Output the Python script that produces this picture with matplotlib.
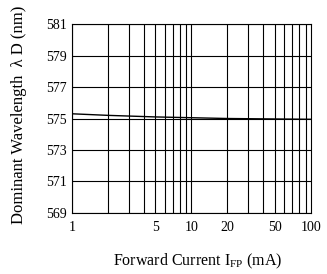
import numpy as np
import matplotlib.pyplot as plt

current_ma = [1, 2, 5, 10, 20, 50, 100]
wavelength_nm = [575.3, 575.2, 575.1, 575.05, 575.0, 574.97, 574.95]
y_ticks = [569, 571, 573, 575, 577, 579, 581]
x_ticks = [1, 5, 10, 20, 50, 100]

plt.rcParams['font.family'] = ['Liberation Serif', 'DejaVu Serif']
plt.rcParams['mathtext.fontset'] = 'custom'
plt.rcParams['mathtext.rm'] = 'Liberation Serif'

fig = plt.figure(figsize=(3.27, 2.74), dpi=100)
ax = fig.add_axes([0.220, 0.223, 0.731, 0.689])

ax.plot(current_ma, wavelength_nm, color='k', linewidth=1.0)

ax.set_xscale('log')
ax.set_xlim(1, 100)
ax.set_ylim(569, 581)

# grid lines
for d in [1, 10]:
    for m in range(1, 10):
        ax.axvline(d * m, color='k', linewidth=0.8)
for v in y_ticks:
    ax.axhline(v, color='k', linewidth=0.8)

ax.set_yticks(y_ticks)
ax.set_yticklabels([str(v) for v in y_ticks], fontsize=10)
ax.set_xticks(x_ticks)
ax.set_xticklabels([str(v) for v in x_ticks], fontsize=10)
ax.xaxis.set_minor_locator(plt.NullLocator())
ax.tick_params(length=0, pad=4)
ax.tick_params(axis='x', pad=6)
for s in ax.spines.values():
    s.set_linewidth(0.8)

fig.text(0.606, 0.047, r'Forward Current I$\mathregular{_{FP}}$ (mA)', fontsize=11.5,
         ha='center', va='center')
fig.text(0.058, 0.58, r'Dominant Wavelength  λ D (nm)', fontsize=12,
         rotation=90, ha='center', va='center')

fig.savefig('out.png', dpi=100)
